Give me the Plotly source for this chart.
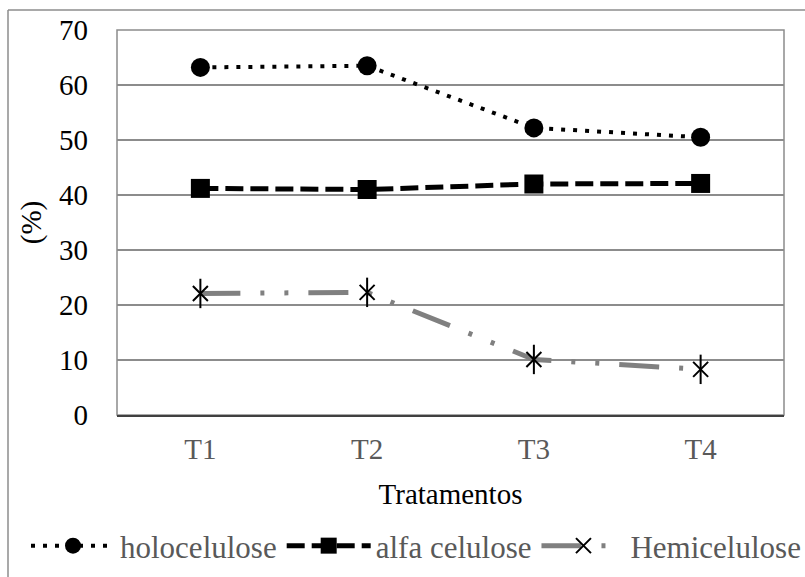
import plotly.graph_objects as go

# Treatments and component contents (%)
tratamentos = ["T1", "T2", "T3", "T4"]
holocelulose = [63.2, 63.5, 52.2, 50.5]
alfa_celulose = [41.2, 41.0, 42.0, 42.1]
hemicelulose = [22.1, 22.3, 10.1, 8.3]
y_ticks = [0, 10, 20, 30, 40, 50, 60, 70]

FONT = "Liberation Serif"

fig = go.Figure()

fig.add_trace(go.Scatter(
    x=tratamentos, y=holocelulose, name="holocelulose",
    mode="lines+markers",
    line=dict(color="black", width=4, dash="4px,8px"),
    marker=dict(symbol="circle", size=19, color="black"),
))

fig.add_trace(go.Scatter(
    x=tratamentos, y=alfa_celulose, name="alfa celulose",
    mode="lines+markers",
    line=dict(color="black", width=5, dash="18px,7px"),
    marker=dict(symbol="square", size=19, color="black"),
))

fig.add_trace(go.Scatter(
    x=tratamentos, y=hemicelulose, name="Hemicelulose",
    mode="lines+markers",
    line=dict(color="#808080", width=5, dash="40px,20px,4px,20px,4px,20px"),
    marker=dict(symbol="x-thin-open", size=15, color="black",
                line=dict(color="black", width=2)),
))
# vertical stroke completing the asterisk marker
fig.add_trace(go.Scatter(
    x=tratamentos, y=hemicelulose, name="Hemicelulose",
    mode="markers", showlegend=False, hoverinfo="skip",
    marker=dict(symbol="line-ns-open", size=21, color="black",
                line=dict(color="black", width=2)),
))

fig.update_layout(
    width=805, height=577,
    margin=dict(l=117, r=21, t=30, b=162, autoexpand=False),
    paper_bgcolor="white", plot_bgcolor="white",
    font=dict(family=FONT, size=29, color="#595959"),
    showlegend=True,
    legend=dict(
        orientation="h",
        x=(26 - 117) / 667, xanchor="left",
        y=(415 - 546) / 385, yanchor="middle",
        font=dict(family=FONT, size=31, color="#595959"),
        itemwidth=84, bgcolor="rgba(0,0,0,0)", tracegroupgap=0,
    ),
    xaxis=dict(
        type="category", categoryorder="array", categoryarray=tratamentos,
        range=[-0.5, 3.5], automargin=False,
        showgrid=False, showline=True, linecolor="#404040", linewidth=2,
        ticks="", ticklabelstandoff=7,
        tickfont=dict(family=FONT, size=29, color="#595959"),
        title=dict(text="Tratamentos", standoff=20,
                   font=dict(family=FONT, size=29, color="black")),
        zeroline=False,
    ),
    yaxis=dict(
        range=[0, 70], tickvals=y_ticks, ticktext=[str(v) for v in y_ticks],
        automargin=False,
        showgrid=True, gridcolor="#8c8c8c", gridwidth=1.5,
        showline=False, zeroline=False, ticks="", ticklabelstandoff=28,
        tickfont=dict(family=FONT, size=29, color="black"),
        title=dict(text="(%)", standoff=8,
                   font=dict(family=FONT, size=29, color="black")),
    ),
    shapes=[
        # plot-area frame
        dict(type="rect", xref="x domain", yref="y domain",
             x0=0, x1=1, y0=0, y1=1, line=dict(color="#8c8c8c", width=1.5),
             layer="below"),
        # outer chart frame (top and left edges)
        dict(type="line", xref="paper", yref="paper",
             x0=(8 - 117) / 667, x1=(806 - 117) / 667,
             y0=(415 - 10) / 385, y1=(415 - 10) / 385,
             line=dict(color="#8c8c8c", width=1.5)),
        dict(type="line", xref="paper", yref="paper",
             x0=(8 - 117) / 667, x1=(8 - 117) / 667,
             y0=(415 - 10) / 385, y1=(415 - 580) / 385,
             line=dict(color="#8c8c8c", width=1.5)),
    ],
)

fig.write_html("out.html")
